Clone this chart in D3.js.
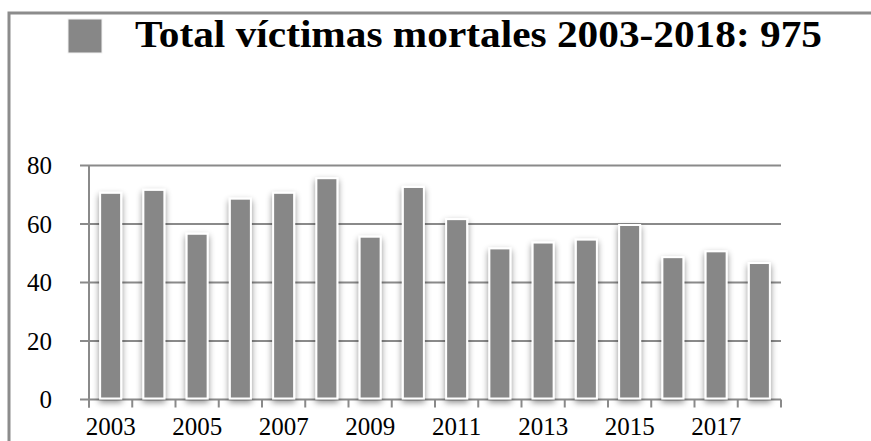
<!DOCTYPE html>
<html>
<head>
<meta charset="utf-8">
<script src="https://cdn.jsdelivr.net/npm/d3@7"></script>
<style>
  body { margin: 0; background: #fff; }
  svg { display: block; }
</style>
</head>
<body>
<div id="chart"></div>
<script>
// Data: victims per year
const years = ["2003", "2004", "2005", "2006", "2007", "2008", "2009", "2010",
               "2011", "2012", "2013", "2014", "2015", "2016", "2017", "2018"];
const victims = [71, 72, 57, 69, 71, 76, 56, 73, 62, 52, 54, 55, 60, 49, 51, 47];
const yTicks = [0, 20, 40, 60, 80];
const titleText = "Total víctimas mortales 2003-2018: 975";

const W = 871, H = 441;
const plot = { left: 89, right: 781, top: 165.5, bottom: 399.5 };
const grey = "#878787";
const serif = "'Liberation Serif', 'Times New Roman', Times, serif";

const svg = d3.select("#chart").append("svg")
  .attr("width", W).attr("height", H);

// drop shadow for bars
const defs = svg.append("defs");
const f = defs.append("filter").attr("id", "shadow")
  .attr("x", "-50%").attr("y", "-20%").attr("width", "200%").attr("height", "140%");
f.append("feDropShadow")
  .attr("dx", 0).attr("dy", 3).attr("stdDeviation", 3)
  .attr("flood-color", "#000").attr("flood-opacity", 0.45);

// outer frame (top and left edges)
svg.append("path")
  .attr("d", `M9,${H} V13 H${W}`)
  .attr("fill", "none").attr("stroke", "#8c8c8c").attr("stroke-width", 3);

// legend square + title
svg.append("rect")
  .attr("x", 68).attr("y", 19).attr("width", 34).attr("height", 34)
  .attr("fill", grey).attr("stroke", "#f2f2f2").attr("stroke-width", 1);

svg.append("text")
  .attr("x", 135).attr("y", 47)
  .attr("textLength", 687).attr("lengthAdjust", "spacingAndGlyphs")
  .style("font-family", serif)
  .style("font-weight", "bold").style("font-size", "38px")
  .text(titleText);

// scales
const x = d3.scaleBand().domain(years).range([plot.left, plot.right]).padding(0);
const y = d3.scaleLinear().domain([0, 80]).range([plot.bottom, plot.top]);

// gridlines
svg.append("g").selectAll("line")
  .data(yTicks).enter().append("line")
  .attr("x1", plot.left - 9).attr("x2", plot.right)
  .attr("y1", d => y(d)).attr("y2", d => y(d))
  .attr("stroke", "#8a8a8a").attr("stroke-width", 2);

// y axis line
svg.append("line")
  .attr("x1", plot.left).attr("x2", plot.left)
  .attr("y1", plot.top).attr("y2", plot.bottom + 8)
  .attr("stroke", "#8a8a8a").attr("stroke-width", 2);

// x ticks at band boundaries
const bounds = years.map(d => x(d)).concat([plot.right]);
svg.append("g").selectAll("line")
  .data(bounds).enter().append("line")
  .attr("x1", d => d).attr("x2", d => d)
  .attr("y1", plot.bottom).attr("y2", plot.bottom + 8)
  .attr("stroke", "#8a8a8a").attr("stroke-width", 2);

// y labels
svg.append("g").selectAll("text")
  .data(yTicks).enter().append("text")
  .attr("x", 52).attr("y", d => y(d) + 8.5)
  .attr("text-anchor", "end")
  .style("font-family", serif)
  .style("font-size", "25px")
  .text(d => d);

// bars
const barW = 21;
svg.append("g").selectAll("rect")
  .data(victims).enter().append("rect")
  .attr("x", (d, i) => x(years[i]) + x.bandwidth() / 2 - barW / 2)
  .attr("y", d => y(d) + 1)
  .attr("width", barW)
  .attr("height", d => y(0) - y(d) - 2)
  .attr("fill", grey)
  .attr("stroke", "#fff").attr("stroke-width", 2)
  .attr("filter", "url(#shadow)");

// x labels (every other year)
svg.append("g").selectAll("text")
  .data(years.filter((d, i) => i % 2 === 0)).enter().append("text")
  .attr("x", d => x(d) + x.bandwidth() / 2)
  .attr("y", 435)
  .attr("text-anchor", "middle")
  .style("font-family", serif)
  .style("font-size", "25px")
  .text(d => d);
</script>
</body>
</html>
